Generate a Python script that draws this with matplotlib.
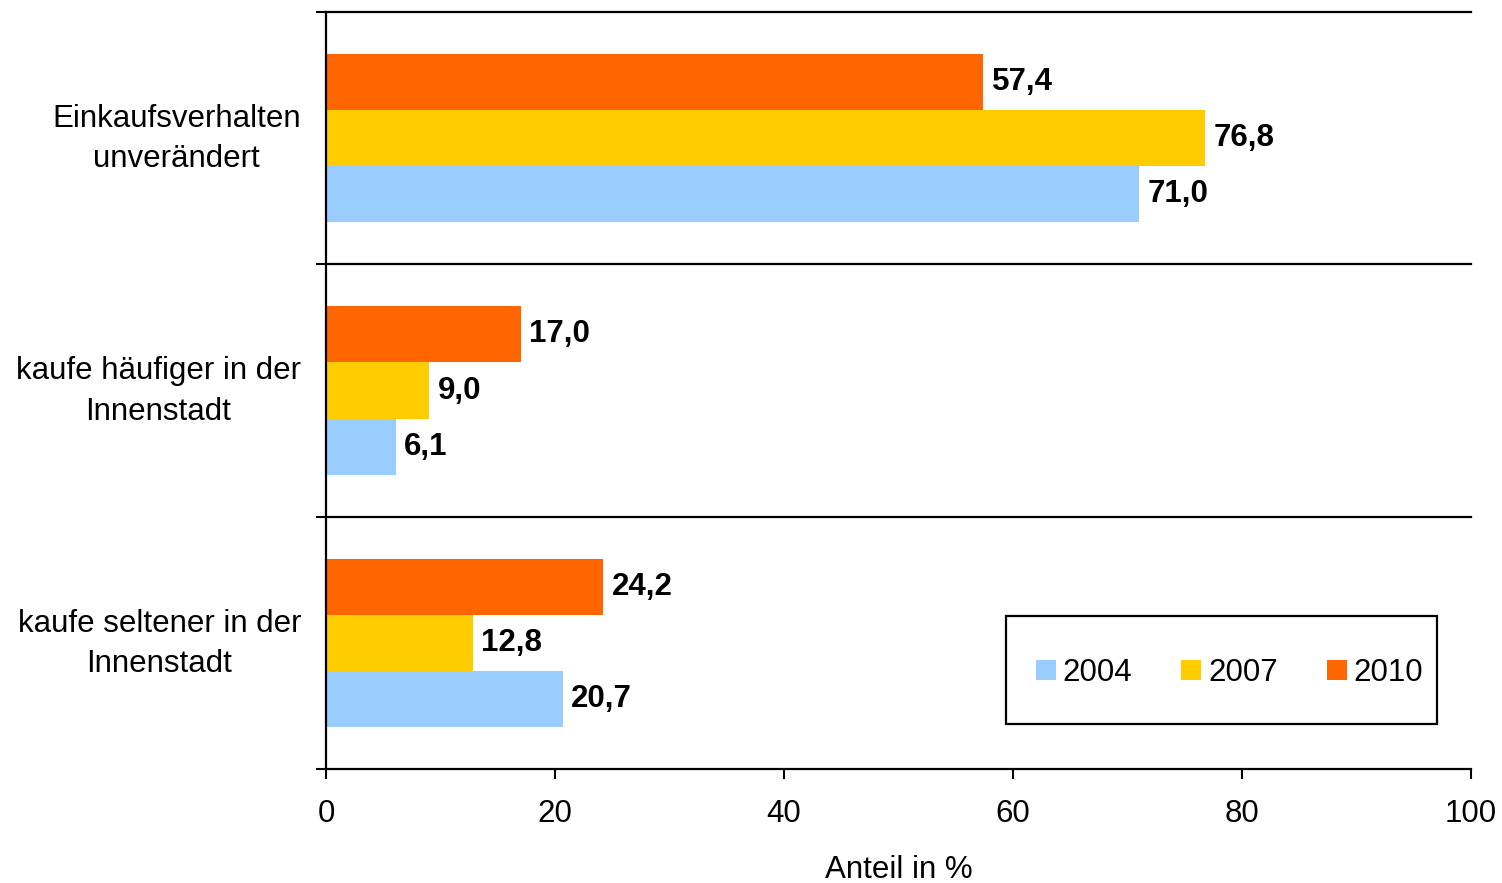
import matplotlib
matplotlib.use("Agg")
import matplotlib.pyplot as plt
from matplotlib.patches import Rectangle
import numpy as np

plt.rcParams["font.family"] = ["Liberation Sans", "DejaVu Sans"]

categories = ["Einkaufsverhalten\nunverändert",
              "kaufe häufiger in der\nInnenstadt",
              "kaufe seltener in der\nInnenstadt"]
years = ["2004", "2007", "2010"]
v2004 = [71.0, 6.1, 20.7]
v2007 = [76.8, 9.0, 12.8]
v2010 = [57.4, 17.0, 24.2]
colors = {"2004": "#99CCFF", "2007": "#FFCC00", "2010": "#FF6600"}
xticks = [0, 20, 40, 60, 80, 100]

FS = 22.5

fig = plt.figure(figsize=(15.02, 8.83), dpi=100)
ax = fig.add_axes([326 / 1502, 1 - 769 / 883, 1145 / 1502, 757 / 883])

n = len(categories)
centers = np.arange(n)[::-1] + 0.5   # first category on top
h = 0.222
offsets = {"2004": -h, "2007": 0.0, "2010": h}
series = {"2004": v2004, "2007": v2007, "2010": v2010}

for yr in years:
    vals = series[yr]
    ax.barh(centers + offsets[yr], vals, height=h, color=colors[yr],
            label=yr, zorder=2)
    for c, v in zip(centers, vals):
        ax.annotate(f"{v:.1f}".replace(".", ","), (v, c + offsets[yr]),
                    xytext=(6, 0), textcoords="offset points",
                    ha="left", va="center", fontsize=FS, fontweight="bold")

ax.set_xlim(0, 100)
ax.set_ylim(0, n)
ax.set_xticks(xticks)
ax.set_xticklabels([str(t) for t in xticks], fontsize=FS)
ax.set_yticks(np.arange(n + 1))
ax.set_yticklabels([])
# category names sit slightly above the group centre
ax.set_yticks(centers + 0.03, categories, minor=True)
ax.tick_params(axis="y", which="minor", length=0, pad=18, labelsize=FS)
ax.tick_params(axis="y", which="major", length=7.5, width=1.5, direction="out")
ax.tick_params(axis="x", length=7.5, width=1.5, direction="out", pad=14)
for lab in ax.get_yticklabels(minor=True):
    lab.set_multialignment("center")
    lab.set_linespacing(1.45)

for y in range(1, n + 1):
    ax.axhline(y, color="black", lw=1.6, zorder=1, clip_on=False)
ax.spines["right"].set_visible(False)
ax.spines["top"].set_visible(False)
for s in ("left", "bottom"):
    ax.spines[s].set_linewidth(1.6)
    ax.spines[s].set_zorder(3)

ax.set_xlabel("Anteil in %", fontsize=FS, labelpad=19)

# legend box drawn separately so its size can be set directly
ax.add_patch(Rectangle((0.5939, 0.0594), 0.3764, 0.1427, transform=ax.transAxes,
                       facecolor="white", edgecolor="black", lw=1.6, zorder=4))
handles, labels = ax.get_legend_handles_labels()
leg = ax.legend(handles, labels, ncol=3, loc="center",
                bbox_to_anchor=(0.789, 0.1268), fontsize=FS, frameon=False,
                borderpad=0, handlelength=0.64, handleheight=0.64,
                handletextpad=0.22, columnspacing=1.57, borderaxespad=0)
leg.set_zorder(5)

fig.savefig("out.png", dpi=100, facecolor="white")
